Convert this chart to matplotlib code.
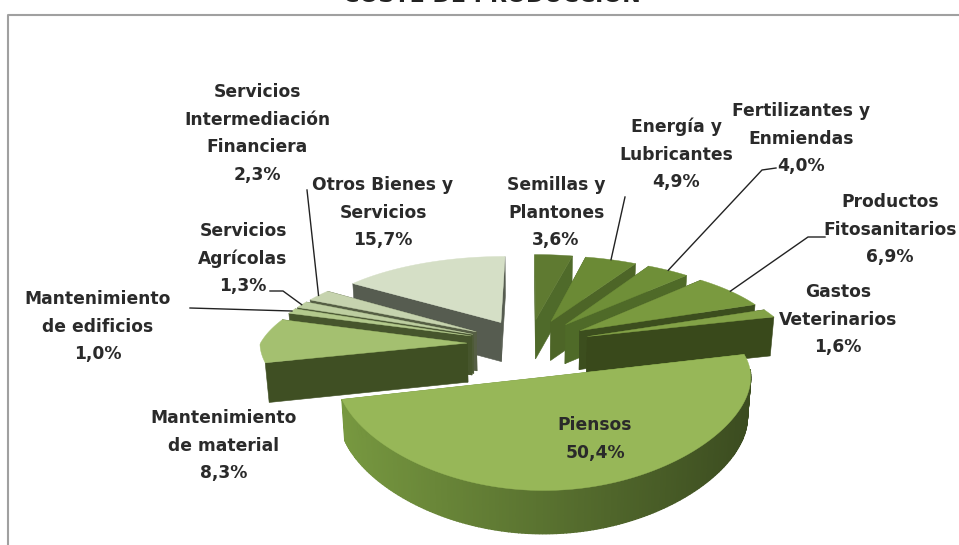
import matplotlib
matplotlib.use('Agg')
import matplotlib.pyplot as plt
from matplotlib.patches import Polygon
import numpy as np

# datos del grafico (orden de las agujas del reloj, desde arriba)
labels = ['Semillas y\nPlantones', 'Energía y\nLubricantes', 'Fertilizantes y\nEnmiendas',
          'Productos\nFitosanitarios', 'Gastos\nVeterinarios', 'Piensos',
          'Mantenimiento\nde material', 'Mantenimiento\nde edificios', 'Servicios\nAgrícolas',
          'Servicios\nIntermediación\nFinanciera', 'Otros Bienes y\nServicios']
values = [3.6, 4.9, 4.0, 6.9, 1.6, 50.4, 8.3, 1.0, 1.3, 2.3, 15.7]
value_labels = ['3,6%', '4,9%', '4,0%', '6,9%', '1,6%', '50,4%', '8,3%', '1,0%', '1,3%', '2,3%', '15,7%']
title = 'COSTE DE PRODUCCIÓN'

top_colors = ['#5f7a31', '#6b8a35', '#6f8f38', '#7a9a3f', '#83a247', '#97b758',
              '#a4c070', '#b3c98c', '#bdcea0', '#c6d3ae', '#d5dfc6']
wall_colors = ['#4f6a2a', '#4d6527', '#4f6a28', '#3c4e1e', '#39491b', '#708f3c',
               '#3f4f23', '#46552c', '#4d5a36', '#555e44', '#565c50']

# posicion del texto (centro x, y primera linea) y lineas guia
label_pos = [(556, 185), (676, 127), (801, 111), (890, 202), (838, 292), (595, 425),
             (224, 418), (98, 299), (243, 231), (257, 92), (383, 185)]
leaders = {1: [(625, 197)], 2: [(776, 168), (762, 170)], 3: [(825, 237), (808, 237)],
           7: [(190, 308)], 8: [(270, 291), (283, 291)], 9: [(307, 190)]}
line_h = 27.7

# proyeccion con perspectiva
cx, cy = 529, 344
R, K = 207, 85
P_FAR = 0.18
P_NEAR = 0.15
EXPLODE = 0.3
EXPLODE_FRONT = 0.38
DEPTH = 39


def project(X, Y, down=False):
    d = 1 + (P_FAR if Y > 0 else P_NEAR) * Y
    x = R * X / (1 + P_FAR * max(Y, 0))
    y = K * Y / d
    if down:
        return cx + x * 0.985, cy - y + DEPTH * (1 + 0.08 * max(-Y, 0))
    return cx + x, cy - y


def shade(color, f):
    rgb = np.array(matplotlib.colors.to_rgb(color))
    return tuple(np.clip(rgb * f, 0, 1))


fig = plt.figure(figsize=(9.59, 5.45), dpi=100)
ax = fig.add_axes([0, 0, 1, 1])
ax.set_xlim(0, 959)
ax.set_ylim(545, 0)
ax.axis('off')
font = 'DejaVu Sans'

# marco
ax.plot([8, 8, 959], [545, 15, 15], color='#a0a0a0', lw=1.5)

# el titulo queda cortado por arriba, igual que en el original
ax.text(492, 2.5, title, ha='center', va='baseline', fontsize=16, fontweight='bold',
        family=font, color='#222222', clip_on=True)

fracs = np.array(values) / sum(values)
edges = np.concatenate([[0], np.cumsum(fracs)]) * 2 * np.pi

slices = []
for i in range(len(values)):
    a0, a1 = edges[i], edges[i + 1]
    mid = (a0 + a1) / 2
    ax0 = EXPLODE * np.sin(mid)
    ay0 = (EXPLODE_FRONT if np.cos(mid) < -0.5 else EXPLODE) * np.cos(mid)
    th = np.linspace(a0, a1, max(int((a1 - a0) * 60), 6))
    arc = np.column_stack([ax0 + np.sin(th), ay0 + np.cos(th)])
    slices.append((ay0, i, ax0, th, arc, mid))

outer_mid = {}
z = 2.0
# de atras hacia adelante
for ay0, i, ax0, th, arc, mid in sorted(slices, key=lambda s: -s[0]):
    wall = wall_colors[i]
    apex_t = project(ax0, ay0)
    apex_b = project(ax0, ay0, True)
    # paredes radiales, primero la de mas atras
    ends = sorted([arc[0], arc[-1]], key=lambda p: -p[1])
    for e in ends:
        z += 0.001
        ax.add_patch(Polygon([apex_t, project(*e), project(*e, True), apex_b],
                             fc=wall, ec=wall, lw=0.4, zorder=z))
    # pared exterior, solo en el sector grande de delante
    if np.cos(mid) < -0.5:
        for j in range(len(arc) - 1):
            if np.cos(th[j]) > 0.1:
                continue
            z += 0.001
            c = shade(wall, 0.8 - 0.27 * np.sin(th[j]))
            ax.add_patch(Polygon([project(*arc[j]), project(*arc[j + 1]),
                                  project(*arc[j + 1], True), project(*arc[j], True)],
                                 fc=c, ec=c, lw=1.0, zorder=z))
    # cara superior
    z += 0.001
    top = [apex_t] + [project(*p) for p in arc]
    ax.add_patch(Polygon(top, fc=top_colors[i], ec=top_colors[i], lw=0.3, zorder=z))
    outer_mid[i] = project(ax0 + np.sin(mid), ay0 + np.cos(mid))

# lineas guia
for i, pts in leaders.items():
    xs = [p[0] for p in pts] + [outer_mid[i][0]]
    ys = [p[1] for p in pts] + [outer_mid[i][1]]
    ax.plot(xs, ys, color='#222222', lw=1.0, zorder=8)

# etiquetas
for i, lab in enumerate(labels):
    x, y = label_pos[i]
    lines = lab.split('\n') + [value_labels[i]]
    for n, s in enumerate(lines):
        ax.text(x, y + n * line_h, s, ha='center', va='center', fontsize=12.3,
                family=font, fontweight='bold', color='#2a2a2a', zorder=10)

fig.savefig('out.png', dpi=100, facecolor='white')
